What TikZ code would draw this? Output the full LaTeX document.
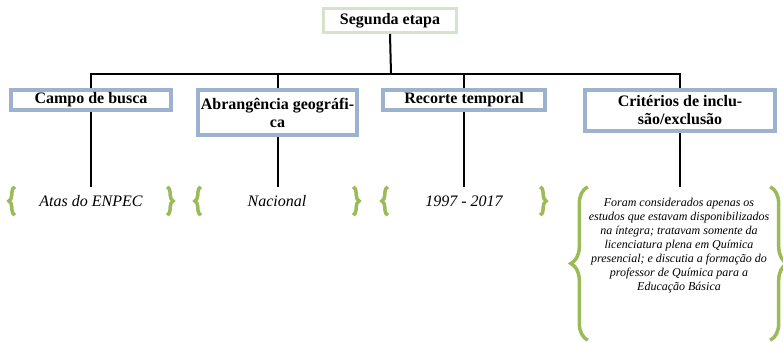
\documentclass[tikz,border=0pt]{standalone}
\usepackage{fontspec}
\setmainfont{Liberation Serif}
\usetikzlibrary{decorations.pathreplacing}
\definecolor{boxblue}{RGB}{157,178,206}
\definecolor{boxgreen}{RGB}{214,227,204}
\definecolor{bracegreen}{RGB}{155,187,89}

\begin{document}
\begin{tikzpicture}[x=1pt, y=-1pt,
  topbox/.style={draw=boxgreen, line width=3pt, inner sep=0pt, minimum width=133pt, minimum height=24pt, font=\bfseries\fontsize{16}{18}\selectfont},
  stagebox/.style={draw=boxblue, line width=4pt, inner sep=0pt, minimum height=20pt, align=center, font=\bfseries\fontsize{16}{18}\selectfont},
  tree/.style={line width=2pt},
  itemtext/.style={inner sep=0pt, minimum width=152pt, minimum height=28pt, font=\itshape\fontsize{16}{18}\selectfont},
  shortbrace/.style={decorate, decoration={brace, amplitude=6pt}, draw=bracegreen, line width=3.5pt},
  bigbrace/.style={decorate, decoration={brace, amplitude=17pt}, draw=bracegreen, line width=3.5pt}]

\useasboundingbox (0,0) rectangle (783,341);

\node[topbox] (etapa) at (390,20.5) {Segunda etapa};
\coordinate (split) at (391,74);

\node[stagebox, minimum width=160pt] (campo) at (91,100) {Campo de busca};
\node[stagebox, minimum width=159pt, minimum height=45pt] (abrang) at (277.5,112.5) {Abrangência geográfi-\\ca};
\node[stagebox, minimum width=162pt] (recorte) at (464,99.5) {Recorte temporal};
\node[stagebox, minimum width=190pt, minimum height=41pt] (criterios) at (680,110.5) {Critérios de inclu-\\são/exclusão};

\draw[tree] (etapa.south) -- (split);
\draw[tree] (split) -| (campo.north);
\draw[tree] (split) -| (abrang.north);
\draw[tree] (split) -| (recorte.north);
\draw[tree] (split) -| (criterios.north);

\node[itemtext] (atas) at (91,201) {Atas do ENPEC};
\node[itemtext] (nacional) at (277,201) {Nacional};
\node[itemtext] (periodo) at (464,201) {1997 - 2017};
\node[inner sep=0pt, font=\itshape\fontsize{12}{14}\selectfont] (forma) at (679,263.5) {\parbox[c][153pt][t]{182pt}{\centering\vspace*{11pt}Foram considerados apenas os\\
  estudos que estavam disponibilizados\\
  na íntegra; tratavam somente da\\
  licenciatura plena em Química\\
  presencial; e discutia a formação do\\
  professor de Química para a\\
  Educação Básica}};

\draw[tree] (campo.south) -- (campo.south |- atas.north);
\draw[tree] (abrang.south) -- (abrang.south |- nacional.north);
\draw[tree] (recorte.south) -- (recorte.south |- periodo.north);
\draw[tree] (criterios.south) -- (criterios.south |- forma.north);

% chaves
\draw[shortbrace] (atas.south west) -- (atas.north west);
\draw[shortbrace] (atas.north east) -- (atas.south east);
\draw[shortbrace] (nacional.south west) -- (nacional.north west);
\draw[shortbrace] (nacional.north east) -- (nacional.south east);
\draw[shortbrace] (periodo.south west) -- (periodo.north west);
\draw[shortbrace] (periodo.north east) -- (periodo.south east);
\draw[bigbrace] (forma.south west) -- (forma.north west);
\draw[bigbrace] (forma.north east) -- (forma.south east);

\end{tikzpicture}
\end{document}
